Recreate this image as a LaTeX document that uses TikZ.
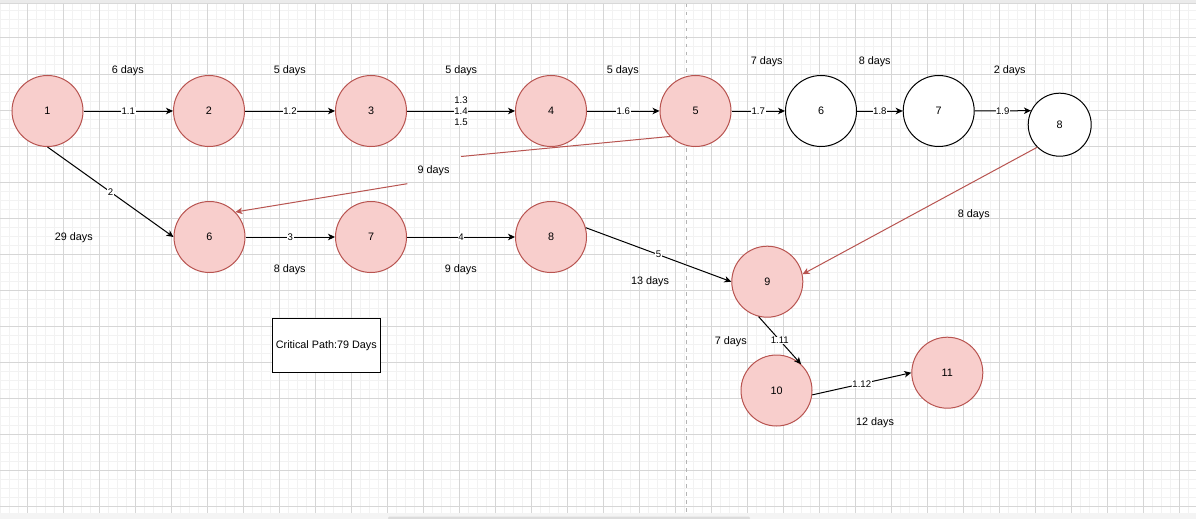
\documentclass[tikz,border=0pt]{standalone}
\usepackage{fontspec}
\setmainfont{Liberation Sans}
\usetikzlibrary{arrows.meta}
\definecolor{nodefill}{HTML}{F8CECC}
\definecolor{nodeline}{HTML}{B85450}
\definecolor{gridminor}{HTML}{F2F2F2}
\definecolor{gridmajor}{HTML}{D6D6D6}
\definecolor{guide}{HTML}{B4B4B4}
\definecolor{topbar}{HTML}{EBEBEB}
\definecolor{topline}{HTML}{D8D8D8}
\definecolor{bottombar}{HTML}{F4F4F4}
\definecolor{scroll}{HTML}{DCDCDC}
\begin{document}
\begin{tikzpicture}[x=1pt,y=-1pt,
  task/.style={circle, draw=nodeline, fill=nodefill, line width=1pt,
    minimum size=71pt, inner sep=0pt, font=\fontsize{10.8}{12}\selectfont},
  plain/.style={task, draw=black, fill=white},
  flow/.style={draw=black, line width=1pt,
    -{Stealth[length=7pt,width=6.5pt,inset=2pt]}},
  redflow/.style={draw=nodeline, line width=1pt,
    -{Stealth[length=7pt,width=6.5pt,inset=2pt]}},
  elabel/.style={fill=white, inner sep=0.6pt, font=\fontsize{9.6}{11}\selectfont},
  days/.style={inner sep=0pt, font=\fontsize{10.8}{12}\selectfont},
  note/.style={draw=black, fill=white, line width=1pt, minimum width=108pt,
    minimum height=54pt, inner sep=0pt, font=\fontsize{10.8}{12}\selectfont},
  minorline/.style={draw=gridminor, line width=1pt},
  majorline/.style={draw=gridmajor, line width=1pt}
]
\useasboundingbox (0,0) rectangle (1196,519);

% canvas and grid
\fill[white] (0,0) rectangle (1196,519);
\foreach \i in {0,...,132} \draw[minorline] ({0.3+9*\i},4) -- ({0.3+9*\i},513);
\foreach \j in {0,...,56} \draw[minorline] (0,{2+9*\j}) -- (1196,{2+9*\j});
\foreach \i in {0,...,32} \draw[majorline] ({27.3+36*\i},4) -- ({27.3+36*\i},513);
\foreach \j in {1,...,14} \draw[majorline] (0,{2+36*\j}) -- (1196,{2+36*\j});
\fill[topbar] (0,0) rectangle (1196,3);
\draw[topline, line width=1pt] (0,3.5) -- (1196,3.5);
\fill[bottombar] (0,513.3) rectangle (1196,519);
\fill[scroll, rounded corners=1.2pt] (388,516.6) rectangle (750,519.5);
\draw[guide, line width=1.4pt, dash pattern=on 3.5pt off 4.5pt] (686.7,4) -- (686.7,513);

% upper chain
\node[task]  (n1) at (47.5,111) {1};
\node[task]  (n2) at (209,111) {2};
\node[task]  (n3) at (371,111) {3};
\node[task]  (n4) at (551,111) {4};
\node[task]  (n5) at (695.5,111) {5};
\node[plain] (n6) at (821,111) {6};
\node[plain] (n7) at (938.7,111) {7};
\node[plain, minimum size=63pt] (n8) at (1059.7,124.7) {8};

% lower chain
\node[task] (m6)  at (209.5,237) {6};
\node[task] (m7)  at (371,237) {7};
\node[task] (m8)  at (551,237) {8};
\node[task] (m9)  at (767.3,281.7) {9};
\node[task] (m10) at (776.5,390.5) {10};
\node[task] (m11) at (947.3,372.7) {11};

% connectors
\draw[flow] (n1) -- node[elabel] {1.1} (n2);
\draw[flow] (n2) -- node[elabel] {1.2} (n3);
\draw[flow] (n3) -- node[elabel, align=center] {1.3\\1.4\\1.5} (n4);
\draw[flow] (n4) -- node[elabel] {1.6} (n5);
\draw[flow] (n5) -- node[elabel] {1.7} (n6);
\draw[flow] (n6) -- node[elabel] {1.8} (n7);
\draw[flow] (n7.east) -- node[elabel] {1.9} (n8.154.7);
\draw[flow] (n1.south) -- node[elabel] {2} (m6.west);
\draw[flow] (m6) -- node[elabel] {3} (m7);
\draw[flow] (m7) -- node[elabel] {4} (m8);
\draw[flow] (m8.15) -- node[elabel] {5} (m9.west);
\draw[flow] (m9.256) -- node[elabel] {1.11} (m10.47);
\draw[flow] (m10.-7) -- node[elabel] {1.12} (m11.west);

\coordinate (w1) at (461,156.5);
\coordinate (w2) at (407.3,183.7);
\draw[redflow] (n5.225) -- (w1) (w2) -- (m6.44);
\draw[redflow] (n8.225) -- (m9.12);

% durations
\node[days] (d1)  at (127.8,71) {6 days};
\node[days] (d2)  at (289.8,71) {5 days};
\node[days] (d3)  at (461.2,71) {5 days};
\node[days] (d4)  at (622.8,71) {5 days};
\node[days] (d5)  at (766.7,62) {7 days};
\node[days] (d6)  at (874.7,62) {8 days};
\node[days] (d7)  at (1009.7,71) {2 days};
\node[days] (d8)  at (433.5,170.5) {9 days};
\node[days] (d9)  at (973.8,215) {8 days};
\node[days] (d10) at (73.8,237.5) {29 days};
\node[days] (d11) at (289.7,269.3) {8 days};
\node[days] (d12) at (460.8,269.3) {9 days};
\node[days] (d13) at (650,282) {13 days};
\node[days] (d14) at (730.8,341.3) {7 days};
\node[days] (d15) at (875,422.3) {12 days};

\node[note] (cp) at (326.3,345.3) {Critical Path:79 Days};
\end{tikzpicture}
\end{document}
